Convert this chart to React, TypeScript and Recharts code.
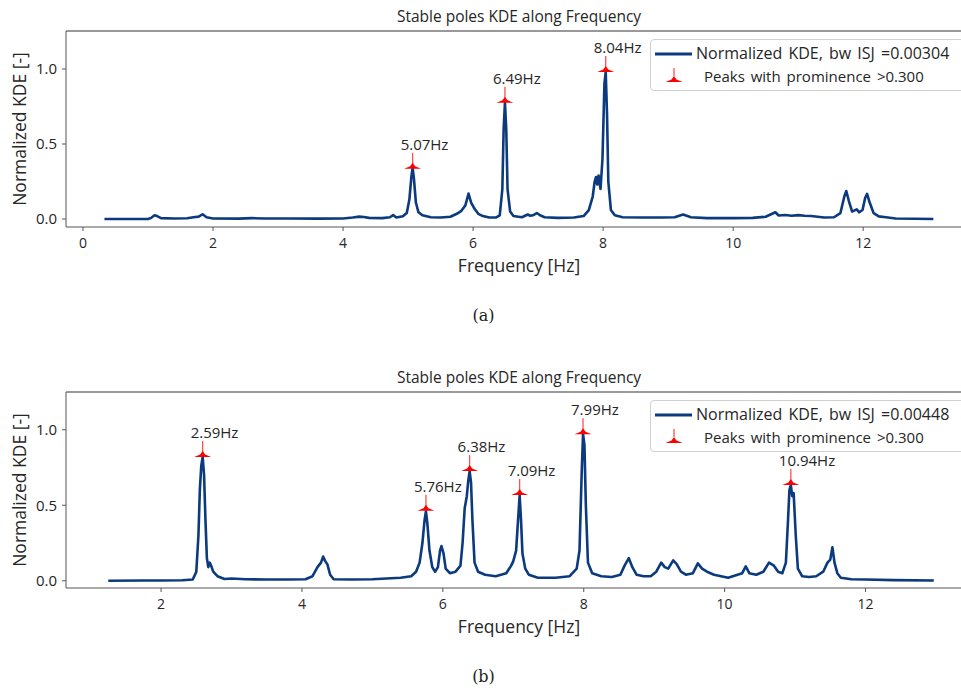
import React from 'react';
import { ComposedChart, Line, Scatter, XAxis, YAxis, ReferenceLine } from 'recharts';

// ---------- Panel (a) ----------
const freqA = [0.33, 1.0, 1.05, 1.1, 1.14, 1.2, 1.4, 1.6, 1.7, 1.78, 1.84, 1.9, 2.0, 2.4, 2.6, 2.8, 3.2, 3.6, 4.0, 4.15, 4.25, 4.32, 4.4, 4.6, 4.72, 4.77, 4.82, 4.92, 4.98, 5.02, 5.05, 5.07, 5.09, 5.12, 5.16, 5.22, 5.35, 5.5, 5.65, 5.75, 5.82, 5.88, 5.93, 5.97, 6.02, 6.08, 6.15, 6.25, 6.35, 6.41, 6.45, 6.47, 6.49, 6.51, 6.53, 6.57, 6.62, 6.75, 6.84, 6.88, 6.92, 6.98, 7.03, 7.1, 7.3, 7.55, 7.7, 7.78, 7.84, 7.87, 7.89, 7.91, 7.93, 7.96, 7.99, 8.02, 8.04, 8.06, 8.08, 8.12, 8.18, 8.3, 8.6, 8.9, 9.1, 9.23, 9.35, 9.6, 10.0, 10.3, 10.5, 10.6, 10.65, 10.7, 10.8, 10.9, 11.0, 11.1, 11.2, 11.4, 11.55, 11.65, 11.71, 11.74, 11.78, 11.83, 11.9, 11.94, 11.99, 12.03, 12.06, 12.1, 12.16, 12.24, 12.35, 12.5, 13.08];
const kdeA = [0.0, 0.0, 0.008, 0.025, 0.02, 0.006, 0.004, 0.005, 0.012, 0.016, 0.032, 0.012, 0.004, 0.003, 0.006, 0.004, 0.004, 0.003, 0.004, 0.01, 0.016, 0.014, 0.008, 0.006, 0.012, 0.026, 0.01, 0.018, 0.04, 0.13, 0.28, 0.34, 0.27, 0.11, 0.045, 0.025, 0.012, 0.01, 0.015, 0.035, 0.055, 0.09, 0.17, 0.11, 0.07, 0.035, 0.02, 0.01, 0.01, 0.025, 0.2, 0.6, 0.775, 0.6, 0.2, 0.05, 0.02, 0.012, 0.03, 0.022, 0.025, 0.04, 0.025, 0.012, 0.008, 0.01, 0.02, 0.06, 0.15, 0.25, 0.28, 0.23, 0.29, 0.2, 0.4, 0.9, 0.98, 0.7, 0.25, 0.06, 0.025, 0.012, 0.01, 0.01, 0.012, 0.03, 0.012, 0.006, 0.006, 0.008, 0.015, 0.035, 0.045, 0.024, 0.027, 0.022, 0.026, 0.022, 0.02, 0.01, 0.012, 0.04, 0.15, 0.187, 0.12, 0.05, 0.065, 0.045, 0.06, 0.14, 0.168, 0.11, 0.04, 0.018, 0.012, 0.004, 0.0];
const peakFreqA = [5.07, 6.49, 8.04];
const peakKdeA = [0.335, 0.775, 0.98];
const xTicksA = [0, 2, 4, 6, 8, 10, 12];
const bwA = '0.00304';

// ---------- Panel (b) ----------
const freqB = [1.25, 1.75, 2.0, 2.3, 2.45, 2.5, 2.53, 2.55, 2.57, 2.59, 2.61, 2.63, 2.65, 2.67, 2.69, 2.71, 2.74, 2.8, 2.9, 3.0, 3.2, 3.5, 3.8, 4.05, 4.15, 4.22, 4.27, 4.3, 4.33, 4.36, 4.4, 4.45, 4.7, 5.0, 5.2, 5.4, 5.55, 5.62, 5.67, 5.71, 5.74, 5.76, 5.78, 5.81, 5.85, 5.89, 5.93, 5.96, 5.98, 6.01, 6.04, 6.1, 6.18, 6.25, 6.28, 6.31, 6.34, 6.36, 6.38, 6.4, 6.42, 6.45, 6.5, 6.6, 6.75, 6.9, 6.97, 7.0, 7.04, 7.07, 7.09, 7.11, 7.13, 7.17, 7.22, 7.35, 7.6, 7.8, 7.9, 7.94, 7.97, 7.99, 8.01, 8.03, 8.06, 8.12, 8.25, 8.4, 8.52, 8.58, 8.64, 8.69, 8.75, 8.85, 8.95, 9.03, 9.1, 9.15, 9.2, 9.27, 9.32, 9.38, 9.45, 9.55, 9.62, 9.68, 9.75, 9.85, 9.95, 10.05, 10.15, 10.25, 10.3, 10.35, 10.45, 10.55, 10.63, 10.7, 10.76, 10.82, 10.87, 10.9, 10.92, 10.94, 10.96, 10.98, 11.01, 11.04, 11.1, 11.2, 11.3, 11.4, 11.46, 11.5, 11.53, 11.56, 11.6, 11.65, 11.8, 12.0, 12.4, 12.97];
const kdeB = [0.0, 0.002, 0.002, 0.003, 0.008, 0.06, 0.3, 0.6, 0.76, 0.82, 0.7, 0.4, 0.15, 0.09, 0.12, 0.1, 0.06, 0.03, 0.012, 0.015, 0.01, 0.008, 0.008, 0.01, 0.03, 0.09, 0.12, 0.16, 0.13, 0.11, 0.04, 0.01, 0.008, 0.01, 0.015, 0.02, 0.03, 0.06, 0.12, 0.25, 0.4, 0.46, 0.38, 0.2, 0.09, 0.06, 0.09, 0.2, 0.23, 0.18, 0.08, 0.05, 0.06, 0.1, 0.25, 0.48, 0.56, 0.66, 0.725, 0.65, 0.4, 0.12, 0.06, 0.04, 0.03, 0.05, 0.1, 0.13, 0.2, 0.42, 0.565, 0.4, 0.18, 0.08, 0.04, 0.02, 0.02, 0.03, 0.08, 0.2, 0.7, 0.97, 0.9, 0.5, 0.12, 0.05, 0.03, 0.025, 0.04, 0.1, 0.15, 0.09, 0.04, 0.03, 0.03, 0.06, 0.12, 0.09, 0.08, 0.135, 0.11, 0.06, 0.04, 0.05, 0.115, 0.08, 0.06, 0.04, 0.03, 0.02, 0.035, 0.05, 0.095, 0.05, 0.04, 0.06, 0.12, 0.1, 0.06, 0.05, 0.12, 0.4, 0.6, 0.633, 0.56, 0.58, 0.3, 0.08, 0.03, 0.025, 0.03, 0.06, 0.12, 0.14, 0.222, 0.12, 0.05, 0.02, 0.01, 0.008, 0.004, 0.002];
const peakFreqB = [2.59, 5.76, 6.38, 7.09, 7.99, 10.94];
const peakKdeB = [0.82, 0.464, 0.726, 0.568, 0.97, 0.634];
const xTicksB = [2, 4, 6, 8, 10, 12];
const bwB = '0.00448';

const yTicks = [0, 0.5, 1.0];

const FONT = "'Open Sans', sans-serif";
const LINE = '#0b3a7e';
const RED = '#ff0000';
const AXIS = '#555555';
const TXT = '#262626';

const PeakShape = (props: any) => {
  const { cx, cy, payload } = props;
  if (cx == null || cy == null) return null;
  return (
    <g>
      <line x1={cx} x2={cx} y1={cy - 16} y2={cy - 4} stroke="#ff5050" strokeWidth={1.3} />
      <polygon
        points={`${cx - 8.5},${cy} ${cx - 2.5},${cy - 2.5} ${cx},${cy - 6} ${cx + 2.5},${cy - 2.5} ${cx + 8.5},${cy}`}
        fill={RED}
      />
      <text x={cx - 12} y={cy - 19} fontFamily={FONT} fontSize={15} fill={TXT}>
        {payload.label}
      </text>
    </g>
  );
};

const LegendBox = ({ bw }: { bw: string }) => (
  <div
    style={{
      position: 'absolute',
      left: 650,
      top: 39,
      width: 330,
      height: 52,
      border: '1px solid #d0d0d0',
      borderRadius: 4,
      background: '#fff',
      boxSizing: 'border-box',
      fontFamily: FONT,
      fontSize: 16,
      color: TXT,
      wordSpacing: 2,
    }}
  >
    <svg width={60} height={50} style={{ position: 'absolute', left: 0, top: 0 }}>
      <line x1={4} x2={41} y1={14} y2={14} stroke={LINE} strokeWidth={3} />
      <line x1={23} x2={23} y1={28} y2={36} stroke="#ff5050" strokeWidth={1.3} />
      <polygon points="14.5,42 20.5,39.5 23,36 25.5,39.5 31.5,42" fill={RED} />
    </svg>
    <div style={{ position: 'absolute', left: 45, top: 2, whiteSpace: 'nowrap', lineHeight: '22px' }}>
      Normalized KDE, bw ISJ ={bw}
    </div>
    <div style={{ position: 'absolute', left: 53, top: 25, whiteSpace: 'nowrap', lineHeight: '22px', fontSize: 15 }}>
      Peaks with prominence {'>'}0.300
    </div>
  </div>
);

type PanelProps = {
  top: number;
  freq: number[];
  kde: number[];
  peakFreq: number[];
  peakKde: number[];
  xDomain: [number, number];
  yDomain: [number, number];
  xTicks: number[];
  bw: string;
  caption: string;
};

const Panel = ({ top, freq, kde, peakFreq, peakKde, xDomain, yDomain, xTicks, bw, caption }: PanelProps) => {
  const curve = freq.map((f, i) => ({ x: f, y: kde[i] }));
  const peaks = peakFreq.map((f, i) => ({ x: f, y: peakKde[i], label: `${f.toFixed(2)}Hz` }));
  return (
    <div style={{ position: 'absolute', left: 0, top, width: 961, height: 340, overflow: 'hidden' }}>
      <div
        style={{
          position: 'absolute',
          left: 0,
          width: 1000,
          top: 6,
          textAlign: 'center',
          fontFamily: FONT,
          fontSize: 15.5,
          color: TXT,
          lineHeight: '20px',
          paddingLeft: 38,
          boxSizing: 'border-box',
        }}
      >
        Stable poles KDE along Frequency
      </div>
      <div style={{ position: 'absolute', left: 0, top: 0 }}>
        <ComposedChart
          width={1000}
          height={300}
          data={curve}
          margin={{ top: 31, right: 38, bottom: 23, left: 6 }}
        >
          <XAxis
            dataKey="x"
            type="number"
            domain={xDomain}
            ticks={xTicks}
            allowDataOverflow
            height={50}
            tickSize={4}
            tickMargin={7}
            stroke={AXIS}
            tick={{ fill: TXT, fontSize: 14, fontFamily: FONT }}
            label={{
              content: (p: any) => {
                const vb = p.viewBox;
                return (
                  <text
                    x={vb.x + vb.width / 2 + 5}
                    y={vb.y + 45}
                    textAnchor="middle"
                    fontFamily={FONT}
                    fontSize={17.5}
                    fill={TXT}
                  >
                    Frequency [Hz]
                  </text>
                );
              },
            }}
          />
          <YAxis
            type="number"
            domain={yDomain}
            ticks={yTicks}
            allowDataOverflow
            width={60}
            tickSize={4}
            tickMargin={5}
            stroke={AXIS}
            tickFormatter={(v: number) => v.toFixed(1)}
            tick={{ fill: TXT, fontSize: 15, fontFamily: FONT }}
            label={{
              content: (p: any) => {
                const vb = p.viewBox;
                const cx = vb.x + 13;
                const cy = vb.y + vb.height / 2;
                return (
                  <text
                    x={cx}
                    y={cy}
                    transform={`rotate(-90, ${cx}, ${cy})`}
                    textAnchor="middle"
                    dominantBaseline="central"
                    fontFamily={FONT}
                    fontSize={17.5}
                    fill={TXT}
                  >
                    Normalized KDE [-]
                  </text>
                );
              },
            }}
          />
          <ReferenceLine y={yDomain[1]} stroke="#777777" strokeWidth={1.5} />
          <Line
            type="linear"
            dataKey="y"
            stroke={LINE}
            strokeWidth={2.6}
            dot={false}
            activeDot={false}
            isAnimationActive={false}
            strokeLinejoin="round"
          />
          <Scatter data={peaks} dataKey="y" shape={PeakShape} isAnimationActive={false} />
        </ComposedChart>
      </div>
      <LegendBox bw={bw} />
      <div
        style={{
          position: 'absolute',
          left: 0,
          width: 961,
          top: 306,
          textAlign: 'center',
          fontFamily: "'DejaVu Serif', serif",
          fontSize: 16,
          color: '#222',
          paddingLeft: 6,
          boxSizing: 'border-box',
        }}
      >
        {caption}
      </div>
    </div>
  );
};

export default function App() {
  return (
    <div style={{ position: 'absolute', left: 0, top: 0, width: 961, height: 691, background: '#fff', overflow: 'hidden' }}>
      <Panel
        top={0}
        freq={freqA}
        kde={kdeA}
        peakFreq={peakFreqA}
        peakKde={peakKdeA}
        xDomain={[-0.2615, 13.52]}
        yDomain={[-0.053, 1.253]}
        xTicks={xTicksA}
        bw={bwA}
        caption="(a)"
      />
      <Panel
        top={361}
        freq={freqB}
        kde={kdeB}
        peakFreq={peakFreqB}
        peakKde={peakKdeB}
        xDomain={[0.65, 13.37]}
        yDomain={[-0.048, 1.25]}
        xTicks={xTicksB}
        bw={bwB}
        caption="(b)"
      />
    </div>
  );
}
